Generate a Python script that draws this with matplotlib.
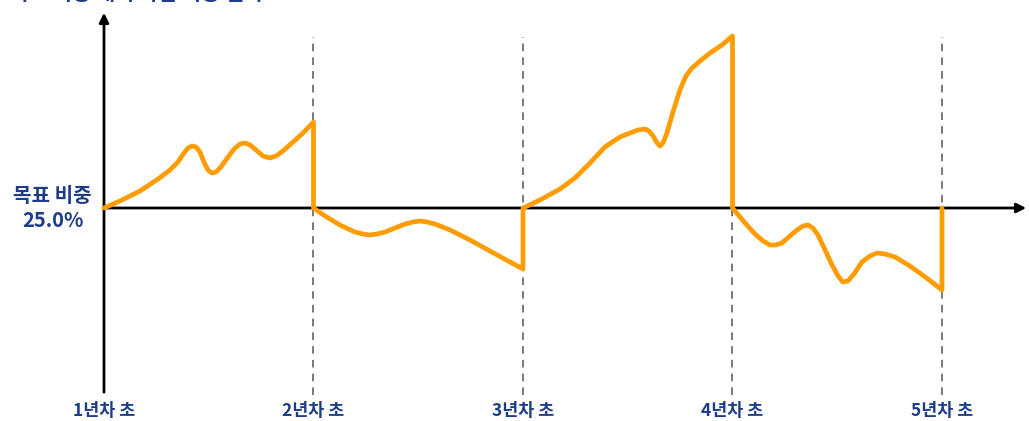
import numpy as np
import matplotlib.pyplot as plt

plt.rcParams['font.family'] = ['Noto Sans CJK KR', 'DejaVu Sans']

# time in years since start, weight in %
target = 25.0
years = [0, 1, 2, 3, 4]
year_labels = ['1년차 초', '2년차 초', '3년차 초', '4년차 초', '5년차 초']

seg1_x = [0, 0.076, 0.172, 0.258, 0.315, 0.353, 0.382, 0.401, 0.420, 0.439, 0.458,
          0.477, 0.496, 0.516, 0.535, 0.558, 0.592, 0.621, 0.649, 0.673, 0.697,
          0.726, 0.759, 0.792, 0.821, 0.854, 0.897, 0.950, 1.0]
seg1_y = [25.0, 25.7, 26.7, 27.9, 28.8, 29.6, 30.5, 31.0, 31.2, 31.1, 30.6,
          29.6, 28.8, 28.5, 28.6, 29.1, 30.1, 30.9, 31.4, 31.5, 31.3,
          30.8, 30.2, 30.0, 30.2, 30.7, 31.5, 32.5, 33.6]

seg2_x = [1.0, 1.055, 1.126, 1.198, 1.236, 1.270, 1.303, 1.341, 1.389, 1.437,
          1.475, 1.508, 1.542, 1.580, 1.652, 1.747, 1.842, 1.938, 2.0]
seg2_y = [25.0, 24.2, 23.3, 22.6, 22.4, 22.3, 22.4, 22.6, 23.0, 23.4,
          23.6, 23.7, 23.6, 23.4, 22.8, 21.8, 20.7, 19.6, 18.9]

seg3_x = [2.0, 2.081, 2.177, 2.248, 2.320, 2.391, 2.463, 2.511, 2.549, 2.582,
          2.601, 2.621, 2.640, 2.654, 2.668, 2.687, 2.716, 2.749, 2.778, 2.807,
          2.845, 2.893, 2.950, 3.0]
seg3_y = [25.0, 25.8, 26.9, 28.0, 29.5, 31.1, 32.1, 32.5, 32.8, 32.9,
          32.7, 32.2, 31.5, 31.2, 31.5, 32.5, 34.6, 36.8, 38.2, 39.0,
          39.7, 40.5, 41.3, 42.2]

seg4_x = [3.0, 3.060, 3.107, 3.146, 3.179, 3.208, 3.236, 3.274, 3.308, 3.337,
          3.360, 3.384, 3.408, 3.442, 3.475, 3.504, 3.527, 3.551, 3.580, 3.618,
          3.656, 3.690, 3.728, 3.776, 3.847, 3.933, 4.0]
seg4_y = [25.0, 23.5, 22.4, 21.7, 21.3, 21.3, 21.5, 22.2, 22.8, 23.2,
          23.3, 23.0, 22.3, 20.8, 19.3, 18.2, 17.6, 17.7, 18.4, 19.6,
          20.2, 20.5, 20.4, 20.1, 19.2, 17.9, 16.8]

# rebalancing at the end brings weight back to target
x = seg1_x + seg2_x + seg3_x + seg4_x + [4.0]
y = seg1_y + seg2_y + seg3_y + seg4_y + [target]

blue = '#1f3c88'
orange = '#ff9c00'

fig = plt.figure(figsize=(10.29, 4.21), dpi=100)
ax = fig.add_axes([0, 0, 1, 1])
ax.set_xlim(-0.4964, 4.4153)
ax.set_ylim(3.7, 45.8)
ax.axis('off')

# dashed year separators
for yr in years[1:]:
    ax.plot([yr, yr], [6.3, 42.1], color='#555555', lw=1.1, ls=(0, (5, 4)), zorder=1)

# axes with arrows
ax.annotate('', xy=(0, 44.8), xytext=(0, 6.3),
            arrowprops=dict(arrowstyle='-|>', color='black', lw=2, mutation_scale=14))
ax.annotate('', xy=(4.415, target), xytext=(0, target),
            arrowprops=dict(arrowstyle='-|>', color='black', lw=2, mutation_scale=14))

ax.plot(x, y, color=orange, lw=3.4, solid_joinstyle='round', solid_capstyle='round', zorder=3)

for yr, lab in zip(years, year_labels):
    ax.text(yr, 4.7, lab, ha='center', va='center', fontsize=12.5,
            fontweight='bold', color=blue)

ax.text(-0.245, target, '목표 비중\n' + f'{target:.1f}%', ha='center', va='center',
        fontsize=14.5, fontweight='bold', color=blue, linespacing=1.25)

fig.text(10 / 1029, 1 - 4 / 421, '목표 비중 대비 자산 비중 변화', ha='left', va='bottom',
         fontsize=15, fontweight='bold', color=blue)

fig.savefig('out.png', dpi=100)
